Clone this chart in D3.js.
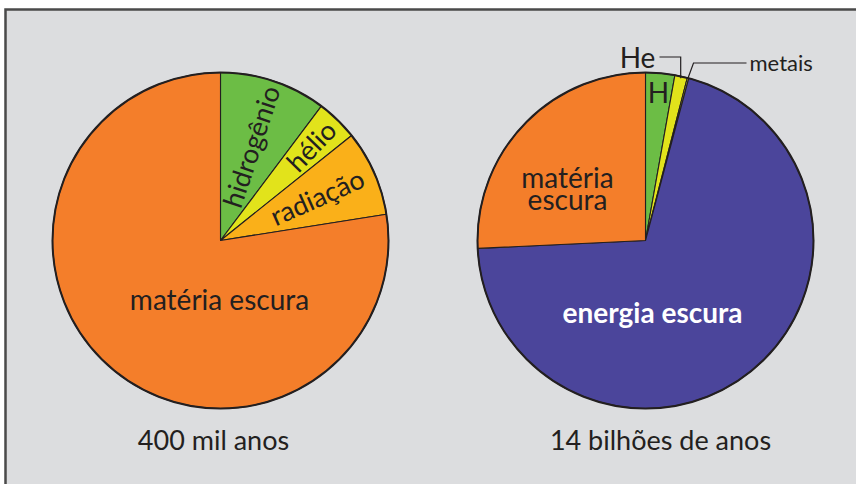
<!DOCTYPE html>
<html><head><meta charset="utf-8">
<script src="https://cdn.jsdelivr.net/npm/d3@7"></script>
<style>html,body{margin:0;padding:0;background:#fff;}svg{display:block;}text{font-family:Lato,"Noto Sans",sans-serif;fill:#231f20;}</style>
</head><body>
<script>
// Data
const leftCategories = ["hidrogênio", "hélio", "radiação", "matéria escura"];
const leftValues = [10.25, 4.0, 8.25, 77.5];
const rightCategories = ["H", "He", "metais", "energia escura", "matéria escura"];
const rightValues = [2.8, 1.2, 0.15, 70.1, 25.75];
const pieTitles = ["400 mil anos", "14 bilhões de anos"];

const colorMap = {
  "hidrogênio": "#6cbd45", "H": "#6cbd45",
  "hélio": "#e2e31b", "He": "#e2e31b", "metais": "#e2e31b",
  "radiação": "#fab019",
  "matéria escura": "#f47e2a",
  "energia escura": "#4b459b"
};

const W = 856, H = 484;
const svg = d3.select("body").append("svg").attr("width", W).attr("height", H);
svg.append("rect").attr("x", 5).attr("y", 9).attr("width", W).attr("height", H).attr("fill", "#dcdddf");
svg.append("path").attr("d", `M5.5,${H} V9.5 H${W}`).attr("fill", "none").attr("stroke", "#4a4a4a").attr("stroke-width", 2.5);

const R = 168;
const pie = d3.pie().sort(null).value(d => d.v).startAngle(0).endAngle(2 * Math.PI);
const arc = d3.arc().innerRadius(0).outerRadius(R);

function drawPie(cx, cy, cats, vals) {
  const g = svg.append("g").attr("transform", `translate(${cx},${cy})`);
  const arcs = pie(cats.map((c, i) => ({ c, v: vals[i] })));
  g.selectAll("path.slice").data(arcs).join("path").attr("class", "slice")
    .attr("d", arc).attr("fill", d => colorMap[d.data.c])
    .attr("stroke", "#231f20").attr("stroke-width", 1.1).attr("stroke-linejoin", "round");
  g.append("circle").attr("r", R).attr("fill", "none").attr("stroke", "#231f20").attr("stroke-width", 2);
  return { g, arcs };
}

// Left pie
const L = drawPie(220.5, 240.5, leftCategories, leftValues);
const radialR = { "hidrogênio": 99, "hélio": 131, "radiação": 106 };
L.arcs.forEach(d => {
  const name = d.data.c;
  const mid = (d.startAngle + d.endAngle) / 2;
  if (radialR[name] !== undefined) {
    const r = radialR[name];
    const x = Math.sin(mid) * r, y = -Math.cos(mid) * r;
    L.g.append("text").attr("transform", `translate(${x},${y}) rotate(${mid * 180 / Math.PI - 90})`)
      .attr("text-anchor", "middle").attr("dy", "0.35em").attr("font-size", 27).text(name);
  } else {
    L.g.append("text").attr("x", -1).attr("y", 69).attr("text-anchor", "middle")
      .attr("font-size", 28).text(name);
  }
});

// Right pie
const Rp = drawPie(645.5, 240.5, rightCategories, rightValues);
const rg = Rp.g;
const byName = {};
Rp.arcs.forEach(d => byName[d.data.c] = d);
// H inside
rg.append("text").attr("x", 13).attr("y", -138).attr("text-anchor", "middle").attr("font-size", 28).text("H");
// He leader
{
  const d = byName["He"];
  const mid = (d.startAngle + d.endAngle) / 2;
  const px = Math.sin(mid) * (R - 2), py = -Math.cos(mid) * (R - 2);
  rg.append("path").attr("d", `M${px},${py} V${-183.5} H${14}`).attr("fill", "none").attr("stroke", "#231f20").attr("stroke-width", 1.2);
  rg.append("text").attr("x", -8).attr("y", -173).attr("text-anchor", "middle").attr("font-size", 28).text("He");
}
// metais leader
{
  const d = byName["metais"];
  const mid = (d.startAngle + d.endAngle) / 2;
  const px = Math.sin(mid) * (R), py = -Math.cos(mid) * (R);
  rg.append("path").attr("d", `M${px},${py} L${48},${-177.5} H${101}`).attr("fill", "none").attr("stroke", "#231f20").attr("stroke-width", 1.2);
  rg.append("text").attr("x", 104).attr("y", -170).attr("text-anchor", "start").attr("font-size", 22).text("metais");
}
rg.append("text").attr("x", 7).attr("y", 82).attr("text-anchor", "middle").attr("font-size", 28)
  .attr("font-weight", "bold").style("fill", "#fff").text("energia escura");
rg.append("text").attr("x", -78).attr("y", -53).attr("text-anchor", "middle").attr("font-size", 28).text("matéria");
rg.append("text").attr("x", -78).attr("y", -31).attr("text-anchor", "middle").attr("font-size", 28).text("escura");

// Titles
svg.append("text").attr("x", 213.5).attr("y", 450).attr("text-anchor", "middle").attr("font-size", 27).text(pieTitles[0]);
svg.append("text").attr("x", 660.5).attr("y", 450).attr("text-anchor", "middle").attr("font-size", 27).text(pieTitles[1]);
</script>
</body></html>
